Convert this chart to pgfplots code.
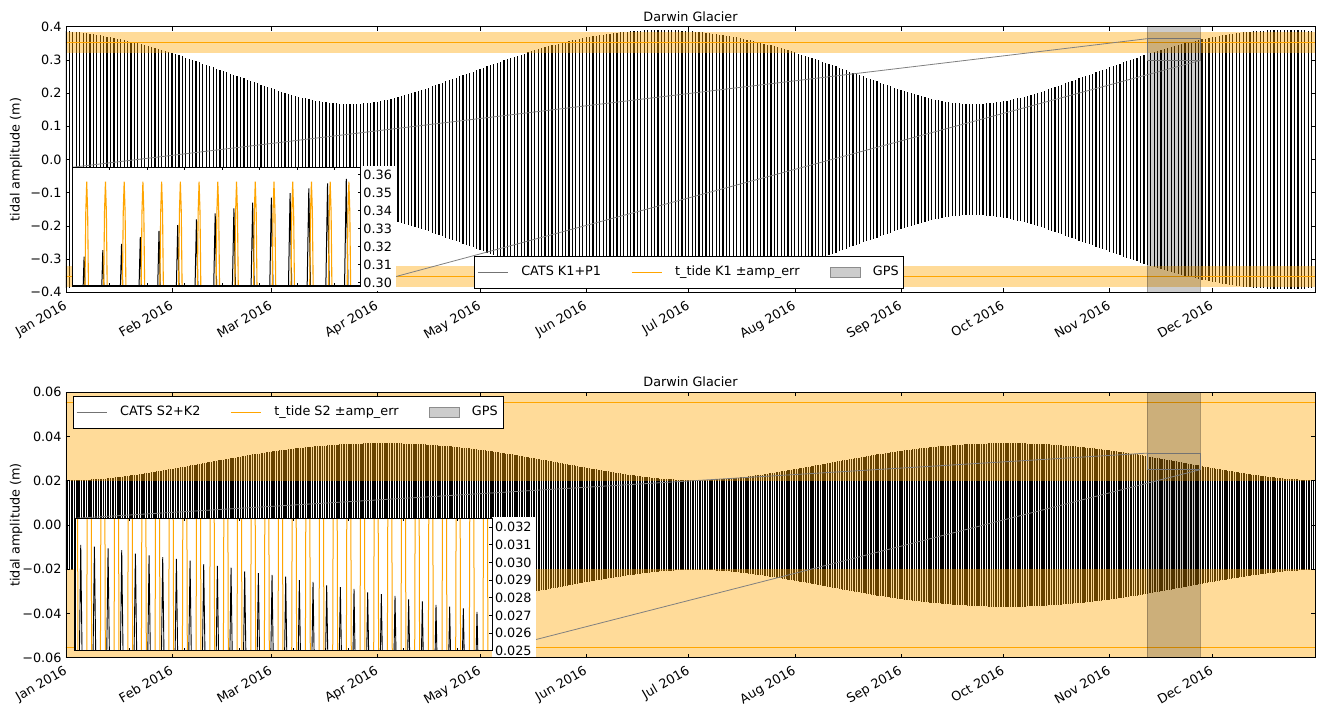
\documentclass[border=0pt]{standalone}
\usepackage{fontspec}
\setmainfont{DejaVu Sans}
\usepackage{pgfplots}
\pgfplotsset{compat=1.18}
\usepackage{pgfplotstable}
\definecolor{mplorange}{HTML}{FFA500}

\pgfplotstableread{
d a
0 .387
1 .386
2 .385
3 .384
4 .383
5 .381
6 .380
7 .379
8 .377
9 .376
10 .374
11 .372
12 .370
13 .368
14 .366
15 .364
16 .362
17 .360
18 .358
19 .355
20 .353
21 .350
22 .348
23 .345
24 .342
25 .339
26 .336
27 .333
28 .330
29 .327
30 .324
31 .321
32 .317
33 .314
34 .311
35 .307
36 .304
37 .300
38 .297
39 .293
40 .289
41 .286
42 .282
43 .278
44 .274
45 .271
46 .267
47 .263
48 .259
49 .255
50 .252
51 .248
52 .244
53 .240
54 .236
55 .232
56 .229
57 .225
58 .221
59 .218
60 .214
61 .211
62 .207
63 .204
64 .201
65 .198
66 .195
67 .192
68 .189
69 .186
70 .184
71 .181
72 .179
73 .177
74 .175
75 .173
76 .172
77 .171
78 .170
79 .169
80 .168
81 .167
82 .167
83 .167
84 .167
85 .168
86 .168
87 .169
88 .170
89 .171
90 .172
91 .174
92 .176
93 .178
94 .180
95 .182
96 .185
97 .188
98 .190
99 .193
100 .196
101 .199
102 .203
103 .206
104 .209
105 .213
106 .216
107 .220
108 .224
109 .227
110 .231
111 .235
112 .239
113 .242
114 .246
115 .250
116 .254
117 .258
118 .261
119 .265
120 .269
121 .273
122 .277
123 .281
124 .284
125 .288
126 .292
127 .295
128 .299
129 .302
130 .306
131 .309
132 .313
133 .316
134 .319
135 .323
136 .326
137 .329
138 .332
139 .335
140 .338
141 .341
142 .344
143 .346
144 .349
145 .352
146 .354
147 .357
148 .359
149 .361
150 .364
151 .366
152 .368
153 .370
154 .371
155 .373
156 .375
157 .376
158 .378
159 .379
160 .381
161 .382
162 .383
163 .384
164 .385
165 .386
166 .387
167 .388
168 .388
169 .389
170 .389
171 .390
172 .390
173 .390
174 .390
175 .390
176 .390
177 .390
178 .389
179 .389
180 .388
181 .388
182 .387
183 .386
184 .385
185 .384
186 .383
187 .382
188 .381
189 .379
190 .378
191 .376
192 .375
193 .373
194 .371
195 .370
196 .368
197 .366
198 .364
199 .361
200 .359
201 .357
202 .354
203 .352
204 .349
205 .346
206 .344
207 .341
208 .338
209 .335
210 .332
211 .329
212 .326
213 .323
214 .319
215 .316
216 .313
217 .309
218 .306
219 .302
220 .299
221 .295
222 .292
223 .288
224 .284
225 .281
226 .277
227 .273
228 .269
229 .265
230 .261
231 .258
232 .254
233 .250
234 .246
235 .242
236 .239
237 .235
238 .231
239 .227
240 .224
241 .220
242 .216
243 .213
244 .209
245 .206
246 .203
247 .199
248 .196
249 .193
250 .190
251 .188
252 .185
253 .182
254 .180
255 .178
256 .176
257 .174
258 .172
259 .171
260 .170
261 .169
262 .168
263 .168
264 .167
265 .167
266 .167
267 .167
268 .168
269 .169
270 .170
271 .171
272 .172
273 .173
274 .175
275 .177
276 .179
277 .181
278 .184
279 .186
280 .189
281 .192
282 .195
283 .198
284 .201
285 .204
286 .207
287 .211
288 .214
289 .218
290 .221
291 .225
292 .229
293 .232
294 .236
295 .240
296 .244
297 .248
298 .252
299 .255
300 .259
301 .263
302 .267
303 .271
304 .274
305 .278
306 .282
307 .286
308 .289
309 .293
310 .297
311 .300
312 .304
313 .307
314 .311
315 .314
316 .317
317 .321
318 .324
319 .327
320 .330
321 .333
322 .336
323 .339
324 .342
325 .345
326 .348
327 .350
328 .353
329 .355
330 .358
331 .360
332 .362
333 .364
334 .366
335 .368
336 .370
337 .372
338 .374
339 .376
340 .377
341 .379
342 .380
343 .381
344 .383
345 .384
346 .385
347 .386
348 .386
349 .387
350 .388
351 .389
352 .389
353 .389
354 .390
355 .390
356 .390
357 .390
358 .390
359 .390
360 .390
361 .389
362 .389
363 .388
364 .388
}\topdata

\pgfplotstableread{
d a
0 .0203
0.5 .0203
1 .0203
1.5 .0203
2 .0203
2.5 .0203
3 .0203
3.5 .0203
4 .0204
4.5 .0204
5 .0204
5.5 .0204
6 .0205
6.5 .0205
7 .0205
7.5 .0206
8 .0206
8.5 .0207
9 .0207
9.5 .0208
10 .0208
10.5 .0209
11 .0210
11.5 .0210
12 .0211
12.5 .0212
13 .0213
13.5 .0214
14 .0214
14.5 .0215
15 .0216
15.5 .0217
16 .0218
16.5 .0219
17 .0220
17.5 .0221
18 .0222
18.5 .0223
19 .0224
19.5 .0225
20 .0226
20.5 .0227
21 .0228
21.5 .0229
22 .0231
22.5 .0232
23 .0233
23.5 .0234
24 .0235
24.5 .0237
25 .0238
25.5 .0239
26 .0240
26.5 .0242
27 .0243
27.5 .0244
28 .0245
28.5 .0247
29 .0248
29.5 .0249
30 .0251
30.5 .0252
31 .0253
31.5 .0255
32 .0256
32.5 .0257
33 .0259
33.5 .0260
34 .0262
34.5 .0263
35 .0264
35.5 .0266
36 .0267
36.5 .0269
37 .0270
37.5 .0272
38 .0273
38.5 .0274
39 .0276
39.5 .0277
40 .0279
40.5 .0280
41 .0282
41.5 .0283
42 .0285
42.5 .0286
43 .0287
43.5 .0289
44 .0290
44.5 .0292
45 .0293
45.5 .0294
46 .0296
46.5 .0297
47 .0299
47.5 .0300
48 .0301
48.5 .0303
49 .0304
49.5 .0305
50 .0307
50.5 .0308
51 .0309
51.5 .0311
52 .0312
52.5 .0314
53 .0315
53.5 .0316
54 .0317
54.5 .0319
55 .0320
55.5 .0321
56 .0322
56.5 .0323
57 .0325
57.5 .0326
58 .0327
58.5 .0328
59 .0329
59.5 .0331
60 .0332
60.5 .0333
61 .0334
61.5 .0335
62 .0336
62.5 .0337
63 .0338
63.5 .0339
64 .0340
64.5 .0341
65 .0342
65.5 .0343
66 .0344
66.5 .0345
67 .0346
67.5 .0347
68 .0347
68.5 .0348
69 .0349
69.5 .0350
70 .0351
70.5 .0351
71 .0352
71.5 .0353
72 .0354
72.5 .0355
73 .0355
73.5 .0356
74 .0357
74.5 .0357
75 .0358
75.5 .0359
76 .0359
76.5 .0360
77 .0360
77.5 .0361
78 .0362
78.5 .0362
79 .0363
79.5 .0363
80 .0364
80.5 .0364
81 .0365
81.5 .0365
82 .0365
82.5 .0366
83 .0366
83.5 .0366
84 .0367
84.5 .0367
85 .0368
85.5 .0368
86 .0368
86.5 .0368
87 .0369
87.5 .0369
88 .0369
88.5 .0369
89 .0369
89.5 .0370
90 .0370
90.5 .0370
91 .0370
91.5 .0370
92 .0370
92.5 .0370
93 .0370
93.5 .0370
94 .0370
94.5 .0370
95 .0370
95.5 .0370
96 .0369
96.5 .0369
97 .0369
97.5 .0369
98 .0369
98.5 .0368
99 .0368
99.5 .0368
100 .0368
100.5 .0367
101 .0367
101.5 .0366
102 .0366
102.5 .0366
103 .0365
103.5 .0365
104 .0365
104.5 .0364
105 .0364
105.5 .0363
106 .0363
106.5 .0362
107 .0362
107.5 .0361
108 .0360
108.5 .0360
109 .0359
109.5 .0359
110 .0358
110.5 .0357
111 .0357
111.5 .0356
112 .0355
112.5 .0355
113 .0354
113.5 .0353
114 .0352
114.5 .0351
115 .0351
115.5 .0350
116 .0349
116.5 .0348
117 .0347
117.5 .0347
118 .0346
118.5 .0345
119 .0344
119.5 .0343
120 .0342
120.5 .0341
121 .0340
121.5 .0339
122 .0338
122.5 .0337
123 .0336
123.5 .0335
124 .0334
124.5 .0333
125 .0332
125.5 .0331
126 .0329
126.5 .0328
127 .0327
127.5 .0326
128 .0325
128.5 .0323
129 .0322
129.5 .0321
130 .0320
130.5 .0319
131 .0317
131.5 .0316
132 .0315
132.5 .0314
133 .0312
133.5 .0311
134 .0309
134.5 .0308
135 .0307
135.5 .0305
136 .0304
136.5 .0303
137 .0301
137.5 .0300
138 .0299
138.5 .0297
139 .0296
139.5 .0294
140 .0293
140.5 .0292
141 .0290
141.5 .0289
142 .0287
142.5 .0286
143 .0285
143.5 .0283
144 .0282
144.5 .0280
145 .0279
145.5 .0277
146 .0276
146.5 .0274
147 .0273
147.5 .0272
148 .0270
148.5 .0269
149 .0267
149.5 .0266
150 .0264
150.5 .0263
151 .0262
151.5 .0260
152 .0259
152.5 .0257
153 .0256
153.5 .0255
154 .0253
154.5 .0252
155 .0251
155.5 .0249
156 .0248
156.5 .0247
157 .0245
157.5 .0244
158 .0243
158.5 .0242
159 .0240
159.5 .0239
160 .0238
160.5 .0237
161 .0235
161.5 .0234
162 .0233
162.5 .0232
163 .0231
163.5 .0229
164 .0228
164.5 .0227
165 .0226
165.5 .0225
166 .0224
166.5 .0223
167 .0222
167.5 .0221
168 .0220
168.5 .0219
169 .0218
169.5 .0217
170 .0216
170.5 .0215
171 .0214
171.5 .0214
172 .0213
172.5 .0212
173 .0211
173.5 .0210
174 .0210
174.5 .0209
175 .0208
175.5 .0208
176 .0207
176.5 .0207
177 .0206
177.5 .0206
178 .0205
178.5 .0205
179 .0205
179.5 .0204
180 .0204
180.5 .0204
181 .0204
181.5 .0203
182 .0203
182.5 .0203
183 .0203
183.5 .0203
184 .0203
184.5 .0203
185 .0203
185.5 .0203
186 .0203
186.5 .0204
187 .0204
187.5 .0204
188 .0204
188.5 .0205
189 .0205
189.5 .0205
190 .0206
190.5 .0206
191 .0207
191.5 .0207
192 .0208
192.5 .0208
193 .0209
193.5 .0210
194 .0210
194.5 .0211
195 .0212
195.5 .0213
196 .0214
196.5 .0214
197 .0215
197.5 .0216
198 .0217
198.5 .0218
199 .0219
199.5 .0220
200 .0221
200.5 .0222
201 .0223
201.5 .0224
202 .0225
202.5 .0226
203 .0227
203.5 .0228
204 .0229
204.5 .0231
205 .0232
205.5 .0233
206 .0234
206.5 .0235
207 .0237
207.5 .0238
208 .0239
208.5 .0240
209 .0242
209.5 .0243
210 .0244
210.5 .0245
211 .0247
211.5 .0248
212 .0249
212.5 .0251
213 .0252
213.5 .0253
214 .0255
214.5 .0256
215 .0257
215.5 .0259
216 .0260
216.5 .0262
217 .0263
217.5 .0264
218 .0266
218.5 .0267
219 .0269
219.5 .0270
220 .0272
220.5 .0273
221 .0274
221.5 .0276
222 .0277
222.5 .0279
223 .0280
223.5 .0282
224 .0283
224.5 .0285
225 .0286
225.5 .0287
226 .0289
226.5 .0290
227 .0292
227.5 .0293
228 .0294
228.5 .0296
229 .0297
229.5 .0299
230 .0300
230.5 .0301
231 .0303
231.5 .0304
232 .0305
232.5 .0307
233 .0308
233.5 .0309
234 .0311
234.5 .0312
235 .0314
235.5 .0315
236 .0316
236.5 .0317
237 .0319
237.5 .0320
238 .0321
238.5 .0322
239 .0323
239.5 .0325
240 .0326
240.5 .0327
241 .0328
241.5 .0329
242 .0331
242.5 .0332
243 .0333
243.5 .0334
244 .0335
244.5 .0336
245 .0337
245.5 .0338
246 .0339
246.5 .0340
247 .0341
247.5 .0342
248 .0343
248.5 .0344
249 .0345
249.5 .0346
250 .0347
250.5 .0347
251 .0348
251.5 .0349
252 .0350
252.5 .0351
253 .0351
253.5 .0352
254 .0353
254.5 .0354
255 .0355
255.5 .0355
256 .0356
256.5 .0357
257 .0357
257.5 .0358
258 .0359
258.5 .0359
259 .0360
259.5 .0360
260 .0361
260.5 .0362
261 .0362
261.5 .0363
262 .0363
262.5 .0364
263 .0364
263.5 .0365
264 .0365
264.5 .0365
265 .0366
265.5 .0366
266 .0366
266.5 .0367
267 .0367
267.5 .0368
268 .0368
268.5 .0368
269 .0368
269.5 .0369
270 .0369
270.5 .0369
271 .0369
271.5 .0369
272 .0370
272.5 .0370
273 .0370
273.5 .0370
274 .0370
274.5 .0370
275 .0370
275.5 .0370
276 .0370
276.5 .0370
277 .0370
277.5 .0370
278 .0370
278.5 .0369
279 .0369
279.5 .0369
280 .0369
280.5 .0369
281 .0368
281.5 .0368
282 .0368
282.5 .0368
283 .0367
283.5 .0367
284 .0366
284.5 .0366
285 .0366
285.5 .0365
286 .0365
286.5 .0365
287 .0364
287.5 .0364
288 .0363
288.5 .0363
289 .0362
289.5 .0362
290 .0361
290.5 .0360
291 .0360
291.5 .0359
292 .0359
292.5 .0358
293 .0357
293.5 .0357
294 .0356
294.5 .0355
295 .0355
295.5 .0354
296 .0353
296.5 .0352
297 .0351
297.5 .0351
298 .0350
298.5 .0349
299 .0348
299.5 .0347
300 .0347
300.5 .0346
301 .0345
301.5 .0344
302 .0343
302.5 .0342
303 .0341
303.5 .0340
304 .0339
304.5 .0338
305 .0337
305.5 .0336
306 .0335
306.5 .0334
307 .0333
307.5 .0332
308 .0331
308.5 .0329
309 .0328
309.5 .0327
310 .0326
310.5 .0325
311 .0323
311.5 .0322
312 .0321
312.5 .0320
313 .0319
313.5 .0317
314 .0316
314.5 .0315
315 .0314
315.5 .0312
316 .0311
316.5 .0309
317 .0308
317.5 .0307
318 .0305
318.5 .0304
319 .0303
319.5 .0301
320 .0300
320.5 .0299
321 .0297
321.5 .0296
322 .0294
322.5 .0293
323 .0292
323.5 .0290
324 .0289
324.5 .0287
325 .0286
325.5 .0285
326 .0283
326.5 .0282
327 .0280
327.5 .0279
328 .0277
328.5 .0276
329 .0274
329.5 .0273
330 .0272
330.5 .0270
331 .0269
331.5 .0267
332 .0266
332.5 .0264
333 .0263
333.5 .0262
334 .0260
334.5 .0259
335 .0257
335.5 .0256
336 .0255
336.5 .0253
337 .0252
337.5 .0251
338 .0249
338.5 .0248
339 .0247
339.5 .0245
340 .0244
340.5 .0243
341 .0242
341.5 .0240
342 .0239
342.5 .0238
343 .0237
343.5 .0235
344 .0234
344.5 .0233
345 .0232
345.5 .0231
346 .0229
346.5 .0228
347 .0227
347.5 .0226
348 .0225
348.5 .0224
349 .0223
349.5 .0222
350 .0221
350.5 .0220
351 .0219
351.5 .0218
352 .0217
352.5 .0216
353 .0215
353.5 .0214
354 .0214
354.5 .0213
355 .0212
355.5 .0211
356 .0210
356.5 .0210
357 .0209
357.5 .0208
358 .0208
358.5 .0207
359 .0207
359.5 .0206
360 .0206
360.5 .0205
361 .0205
361.5 .0205
362 .0204
362.5 .0204
363 .0204
363.5 .0204
364 .0203
364.5 .0203
}\botdata

\pgfplotsset{
  mainax/.style={
    scale only axis, width=1249pt, anchor=south west,
    xmin=0, xmax=365,
    xtick={0,31,60,91,121,152,182,213,244,274,305,335},
    xticklabels={Jan 2016,Feb 2016,Mar 2016,Apr 2016,May 2016,Jun 2016,Jul 2016,Aug 2016,Sep 2016,Oct 2016,Nov 2016,Dec 2016},
    xticklabel style={xshift=-2.3pt, yshift=-4.5pt, rotate=30, anchor=north east, inner sep=2pt},
    scaled y ticks=false, scaled x ticks=false,
    tick align=inside, major tick length=4pt,
    axis line style={line width=0.8pt},
    tick style={black, line width=0.6pt},
    title={Darwin Glacier},
    title style={yshift=-5pt},
    ylabel={tidal amplitude (m)},
    every axis y label/.style={at={(axis description cs:-0.04,0.5)}, rotate=90, anchor=center},
    legend columns=3, legend cell align=left,
    axis on top,
  },
  legsty/.style={draw=black, fill=white, inner xsep=3pt, inner ysep=8pt,
    /tikz/every odd column/.append style={column sep=11pt},
    /tikz/every even column/.append style={column sep=28pt}},
  insetax/.style={anchor=south west, scale only axis,
    scaled y ticks=false, scaled x ticks=false,
    axis background/.style={fill=white},
    axis line style={line width=1.2pt}, axis on top,
    tick align=inside, major tick length=3pt, tick style={black, line width=0.6pt},
    xtick={318,320,322,324,326,328,330}, xticklabels={},
    ytick pos=right, yticklabel pos=right,
    yticklabel style={inner sep=2.5pt}},
}

\begin{document}
\fontsize{12.8}{15}\selectfont
\begin{tikzpicture}[font=\fontsize{12.8}{15}\selectfont]
\path[use as bounding box] (0,0) rectangle (1318pt,707pt);

% ---------------- top main axis ----------------
\begin{axis}[mainax, at={(66pt,414.7pt)}, height=265.6pt,
  ymin=-0.4, ymax=0.4,
  ytick={-0.4,-0.3,-0.2,-0.1,0,0.1,0.2,0.3,0.4},
  yticklabels={−0.4,−0.3,−0.2,−0.1,0.0,0.1,0.2,0.3,0.4},
  legend style={legsty, at={(0.3267,0.016)}, anchor=south west}]
\addplot[forget plot, draw=none, mark=none, error bars/.cd, y dir=both, y explicit, error mark=none,
  error bar style={draw=black, line width=1.2pt}] table[x=d, y expr=0, y error=a] {\topdata};
\addplot[forget plot, draw=none, fill=mplorange, fill opacity=0.4] coordinates {(-5,0.3215) (370,0.3215) (370,0.3855) (-5,0.3855)};
\addplot[forget plot, draw=none, fill=mplorange, fill opacity=0.4] coordinates {(-5,-0.3855) (370,-0.3855) (370,-0.3215) (-5,-0.3215)};
\addplot[forget plot, mplorange, line width=1pt] coordinates {(-5,0.3535) (370,0.3535)};
\addplot[forget plot, mplorange, line width=1pt] coordinates {(-5,-0.3535) (370,-0.3535)};
\addplot[forget plot, fill=black, fill opacity=0.2, draw=black, draw opacity=0.3] coordinates {(316,-1) (331.4,-1) (331.4,1) (316,1) (316,-1)};
\draw[black!55, line width=0.8pt] (axis cs:316,0.298) rectangle (axis cs:331.4,0.364);
\coordinate (tA) at (axis cs:316,0.364);
\coordinate (tB) at (axis cs:331.4,0.298);
\addlegendimage{legend image code/.code={\draw[black!55, line width=1pt] (0pt,0pt) -- (30pt,0pt);}}
\addlegendentry{CATS K1+P1}
\addlegendimage{legend image code/.code={\draw[mplorange, line width=1pt] (0pt,0pt) -- (30pt,0pt);}}
\addlegendentry{t\_tide K1 ±amp\_err}
\addlegendimage{legend image code/.code={\draw[draw=black!45, fill=black!20] (0pt,-5pt) rectangle (30pt,5pt);}}
\addlegendentry{GPS}
\end{axis}
\draw[black!50, line width=0.8pt] (72.3pt,539.7pt) -- (tA);
\draw[black!50, line width=0.8pt] (360.7pt,421pt) -- (tB);
\fill[white] (360.7pt,415.6pt) rectangle (396pt,540.5pt);

% ---------------- top inset ----------------
\begin{axis}[insetax, at={(72.3pt,421pt)},
  width=288.4pt, height=118.7pt,
  xmin=316, xmax=331.4, ymin=0.298, ymax=0.364,
  ytick={0.30,0.31,0.32,0.33,0.34,0.35,0.36},
  yticklabels={0.30,0.31,0.32,0.33,0.34,0.35,0.36}]
\addplot[black, line width=1pt] coordinates {
(316.578,.297)(316.63,.3143)(316.682,.297)
(317.573,.297)(317.63,.318)(317.687,.297)
(318.568,.297)(318.63,.3214)(318.692,.297)
(319.564,.297)(319.63,.3251)(319.696,.297)
(320.56,.297)(320.63,.3286)(320.70,.297)
(321.557,.297)(321.63,.3319)(321.703,.297)
(322.554,.297)(322.63,.3351)(322.706,.297)
(323.551,.297)(323.63,.3384)(323.709,.297)
(324.548,.297)(324.63,.3412)(324.712,.297)
(325.546,.297)(325.63,.3443)(325.714,.297)
(326.544,.297)(326.63,.3471)(326.716,.297)
(327.542,.297)(327.63,.3496)(327.718,.297)
(328.54,.297)(328.63,.3523)(328.72,.297)
(329.538,.297)(329.63,.3551)(329.722,.297)
(330.536,.297)(330.63,.3575)(330.724,.297)};
\addplot[mplorange, line width=1.1pt] coordinates {
(316.677,.297)(316.72,.339)(316.77,.356)(316.82,.339)(316.863,.297)
(317.677,.297)(317.72,.339)(317.77,.356)(317.82,.339)(317.863,.297)
(318.677,.297)(318.72,.339)(318.77,.356)(318.82,.339)(318.863,.297)
(319.677,.297)(319.72,.339)(319.77,.356)(319.82,.339)(319.863,.297)
(320.677,.297)(320.72,.339)(320.77,.356)(320.82,.339)(320.863,.297)
(321.677,.297)(321.72,.339)(321.77,.356)(321.82,.339)(321.863,.297)
(322.677,.297)(322.72,.339)(322.77,.356)(322.82,.339)(322.863,.297)
(323.677,.297)(323.72,.339)(323.77,.356)(323.82,.339)(323.863,.297)
(324.677,.297)(324.72,.339)(324.77,.356)(324.82,.339)(324.863,.297)
(325.677,.297)(325.72,.339)(325.77,.356)(325.82,.339)(325.863,.297)
(326.677,.297)(326.72,.339)(326.77,.356)(326.82,.339)(326.863,.297)
(327.677,.297)(327.72,.339)(327.77,.356)(327.82,.339)(327.863,.297)
(328.677,.297)(328.72,.339)(328.77,.356)(328.82,.339)(328.863,.297)
(329.677,.297)(329.72,.339)(329.77,.356)(329.82,.339)(329.863,.297)
(330.677,.297)(330.72,.339)(330.77,.356)(330.82,.339)(330.863,.297)};
\end{axis}

% ---------------- bottom main axis ----------------
\begin{axis}[mainax, at={(66pt,49.3pt)}, height=265.4pt,
  ymin=-0.06, ymax=0.06,
  ytick={-0.06,-0.04,-0.02,0,0.02,0.04,0.06},
  yticklabels={−0.06,−0.04,−0.02,0.00,0.02,0.04,0.06},
  legend style={legsty, at={(0.0056,0.986)}, anchor=north west}]
\addplot[forget plot, draw=none, mark=none, error bars/.cd, y dir=both, y explicit, error mark=none,
  error bar style={draw=black, line width=1.1pt}] table[x=d, y expr=0, y error=a] {\botdata};
\addplot[forget plot, draw=none, fill=mplorange, fill opacity=0.4] coordinates {(-5,0.0198) (370,0.0198) (370,0.0912) (-5,0.0912)};
\addplot[forget plot, draw=none, fill=mplorange, fill opacity=0.4] coordinates {(-5,-0.0912) (370,-0.0912) (370,-0.0198) (-5,-0.0198)};
\addplot[forget plot, mplorange, line width=1pt] coordinates {(-5,0.0555) (370,0.0555)};
\addplot[forget plot, mplorange, line width=1pt] coordinates {(-5,-0.0555) (370,-0.0555)};
\addplot[forget plot, fill=black, fill opacity=0.2, draw=black, draw opacity=0.3] coordinates {(316,-1) (331.4,-1) (331.4,1) (316,1) (316,-1)};
\draw[black!55, line width=0.8pt] (axis cs:316,0.025) rectangle (axis cs:331.4,0.0325);
\coordinate (bA) at (axis cs:316,0.0325);
\coordinate (bB) at (axis cs:331.4,0.025);
\addlegendimage{legend image code/.code={\draw[black!55, line width=1pt] (0pt,0pt) -- (30pt,0pt);}}
\addlegendentry{CATS S2+K2}
\addlegendimage{legend image code/.code={\draw[mplorange, line width=1pt] (0pt,0pt) -- (30pt,0pt);}}
\addlegendentry{t\_tide S2 ±amp\_err}
\addlegendimage{legend image code/.code={\draw[draw=black!45, fill=black!20] (0pt,-5pt) rectangle (30pt,5pt);}}
\addlegendentry{GPS}
\end{axis}
\draw[black!50, line width=0.8pt] (75pt,188.7pt) -- (bA);
\draw[black!50, line width=0.8pt] (492.3pt,56.3pt) -- (bB);
\fill[white] (492.3pt,50.2pt) rectangle (536pt,189.5pt);

% ---------------- bottom inset ----------------
\begin{axis}[insetax, at={(75pt,56.3pt)},
  width=417.3pt, height=132.4pt,
  xmin=316, xmax=331.27, ymin=0.025, ymax=0.0325,
  ytick={0.025,0.026,0.027,0.028,0.029,0.030,0.031,0.032},
  yticklabels={0.025,0.026,0.027,0.028,0.029,0.030,0.031,0.032}]
\addplot[black, line width=0.9pt] coordinates {
(316.159,.0245)(316.21,.0310)(316.261,.0245)
(316.659,.0245)(316.71,.0309)(316.761,.0245)
(317.159,.0245)(317.21,.0308)(317.261,.0245)
(317.659,.0245)(317.71,.0307)(317.761,.0245)
(318.159,.0245)(318.21,.0305)(318.261,.0245)
(318.661,.0245)(318.71,.0304)(318.759,.0245)
(319.161,.0245)(319.21,.0303)(319.259,.0245)
(319.661,.0245)(319.71,.0302)(319.759,.0245)
(320.161,.0245)(320.21,.0301)(320.259,.0245)
(320.661,.0245)(320.71,.0299)(320.759,.0245)
(321.164,.0245)(321.21,.0298)(321.256,.0245)
(321.664,.0245)(321.71,.0297)(321.756,.0245)
(322.164,.0245)(322.21,.0295)(322.256,.0245)
(322.664,.0245)(322.71,.0294)(322.756,.0245)
(323.164,.0245)(323.21,.0293)(323.256,.0245)
(323.667,.0245)(323.71,.0292)(323.753,.0245)
(324.167,.0245)(324.21,.0290)(324.253,.0245)
(324.667,.0245)(324.71,.0289)(324.753,.0245)
(325.167,.0245)(325.21,.0287)(325.253,.0245)
(325.667,.0245)(325.71,.0286)(325.753,.0245)
(326.17,.0245)(326.21,.0285)(326.25,.0245)
(326.67,.0245)(326.71,.0283)(326.75,.0245)
(327.17,.0245)(327.21,.0282)(327.25,.0245)
(327.67,.0245)(327.71,.0281)(327.75,.0245)
(328.17,.0245)(328.21,.0279)(328.25,.0245)
(328.673,.0245)(328.71,.0278)(328.747,.0245)
(329.173,.0245)(329.21,.0276)(329.247,.0245)
(329.673,.0245)(329.71,.0275)(329.747,.0245)
(330.173,.0245)(330.21,.0274)(330.247,.0245)
(330.673,.0245)(330.71,.0272)(330.747,.0245)};
\addplot[mplorange, line width=1pt] coordinates {
(315.93,.0245)(315.946,.033)(316.094,.033)(316.11,.0245)
(316.43,.0245)(316.446,.033)(316.594,.033)(316.61,.0245)
(316.93,.0245)(316.946,.033)(317.094,.033)(317.11,.0245)
(317.43,.0245)(317.446,.033)(317.594,.033)(317.61,.0245)
(317.93,.0245)(317.946,.033)(318.094,.033)(318.11,.0245)
(318.43,.0245)(318.446,.033)(318.594,.033)(318.61,.0245)
(318.93,.0245)(318.946,.033)(319.094,.033)(319.11,.0245)
(319.43,.0245)(319.446,.033)(319.594,.033)(319.61,.0245)
(319.93,.0245)(319.946,.033)(320.094,.033)(320.11,.0245)
(320.43,.0245)(320.446,.033)(320.594,.033)(320.61,.0245)
(320.93,.0245)(320.946,.033)(321.094,.033)(321.11,.0245)
(321.43,.0245)(321.446,.033)(321.594,.033)(321.61,.0245)
(321.93,.0245)(321.946,.033)(322.094,.033)(322.11,.0245)
(322.43,.0245)(322.446,.033)(322.594,.033)(322.61,.0245)
(322.93,.0245)(322.946,.033)(323.094,.033)(323.11,.0245)
(323.43,.0245)(323.446,.033)(323.594,.033)(323.61,.0245)
(323.93,.0245)(323.946,.033)(324.094,.033)(324.11,.0245)
(324.43,.0245)(324.446,.033)(324.594,.033)(324.61,.0245)
(324.93,.0245)(324.946,.033)(325.094,.033)(325.11,.0245)
(325.43,.0245)(325.446,.033)(325.594,.033)(325.61,.0245)
(325.93,.0245)(325.946,.033)(326.094,.033)(326.11,.0245)
(326.43,.0245)(326.446,.033)(326.594,.033)(326.61,.0245)
(326.93,.0245)(326.946,.033)(327.094,.033)(327.11,.0245)
(327.43,.0245)(327.446,.033)(327.594,.033)(327.61,.0245)
(327.93,.0245)(327.946,.033)(328.094,.033)(328.11,.0245)
(328.43,.0245)(328.446,.033)(328.594,.033)(328.61,.0245)
(328.93,.0245)(328.946,.033)(329.094,.033)(329.11,.0245)
(329.43,.0245)(329.446,.033)(329.594,.033)(329.61,.0245)
(329.93,.0245)(329.946,.033)(330.094,.033)(330.11,.0245)
(330.43,.0245)(330.446,.033)(330.594,.033)(330.61,.0245)
(330.93,.0245)(330.946,.033)(331.094,.033)(331.11,.0245)};
\end{axis}
\end{tikzpicture}
\end{document}
